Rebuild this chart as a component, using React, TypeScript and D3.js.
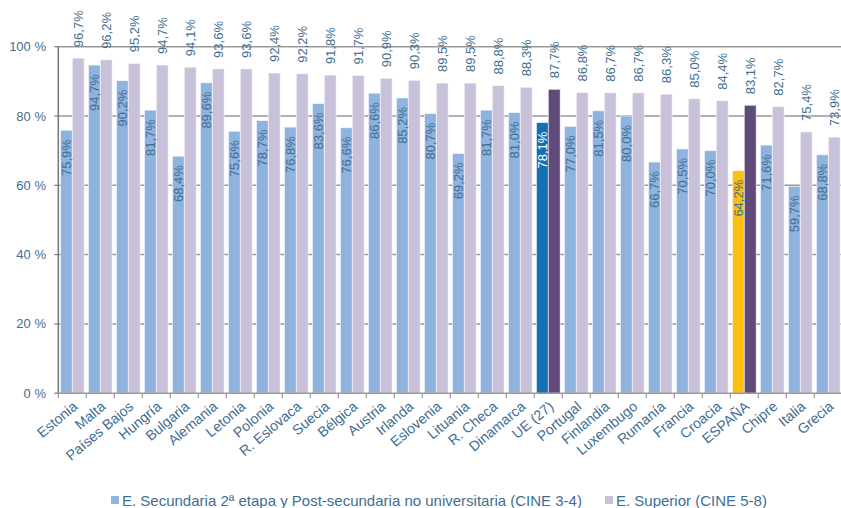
import React from "react";
import * as d3 from "d3";

const countries = ["Estonia","Malta","Países Bajos","Hungría","Bulgaria","Alemania","Letonia","Polonia","R. Eslovaca","Suecia","Bélgica","Austria","Irlanda","Eslovenia","Lituania","R. Checa","Dinamarca","UE (27)","Portugal","Finlandia","Luxembugo","Rumanía","Francia","Croacia","ESPAÑA","Chipre","Italia","Grecia"];
const secundaria = [75.9,94.7,90.2,81.7,68.4,89.6,75.6,78.7,76.8,83.6,76.6,86.6,85.2,80.7,69.2,81.7,81.0,78.1,77.0,81.5,80.0,66.7,70.5,70.0,64.2,71.6,59.7,68.8];
const superior = [96.7,96.2,95.2,94.7,94.1,93.6,93.6,92.4,92.2,91.8,91.7,90.9,90.3,89.5,89.5,88.8,88.3,87.7,86.8,86.7,86.7,86.3,85.0,84.4,83.1,82.7,75.4,73.9];
const yTicks = [0,20,40,60,80,100];
const seriesNames = ["E. Secundaria 2ª etapa y Post-secundaria no universitaria (CINE 3-4)","E. Superior (CINE 5-8)"];

const TXT = "#3f6e92";
const FONT = "'Liberation Sans', Arial, sans-serif";

const fmt = (v: number) => v.toFixed(1).replace(".", ",") + "%";

function colorSec(c: string) {
  if (c === "UE (27)") return "#156fb3";
  if (c === "ESPAÑA") return "#fbbf0f";
  return "#8fb3df";
}
function colorSup(c: string) {
  if (c === "UE (27)" || c === "ESPAÑA") return "#5f4a7a";
  return "#c9c0da";
}

export default function App() {
  const W = 841, H = 508;
  const left = 58.3, right = 842.3, top = 46.7, bottom = 393.2;
  const x = d3.scaleBand<string>().domain(countries).range([left, right]).padding(0);
  const x1 = d3.scaleBand<string>().domain(["sec","sup"]).range([0, x.bandwidth()]).paddingInner(0).paddingOuter(0.18);
  const y = d3.scaleLinear().domain([0, 100]).range([bottom, top]);
  const bw = x1.bandwidth();

  return (
    <svg width={W} height={H} style={{ position: "absolute", left: 0, top: 0, background: "#fff" }} fontFamily={FONT}>
      {/* gridlines */}
      {yTicks.map((t) => (
        <g key={t}>
          {t > 0 && <line x1={left} x2={W} y1={y(t)} y2={y(t)} stroke="#999" strokeWidth={1.5} />}
          <line x1={left - 4} x2={left} y1={y(t)} y2={y(t)} stroke="#777" strokeWidth={1.2} />
          <text x={46} y={y(t)} textAnchor="end" dominantBaseline="central" fontSize={13} fill={TXT}>{t} %</text>
        </g>
      ))}
      {/* bars */}
      {countries.map((c, i) => {
        const bx = x(c)!;
        const xs = bx + x1("sec")!;
        const xp = bx + x1("sup")!;
        return (
          <g key={c}>
            <rect x={xs} y={y(secundaria[i])} width={bw} height={bottom - y(secundaria[i])} fill={colorSec(c)} stroke="#fff" strokeWidth={0.8} strokeOpacity={0.7} />
            <rect x={xp} y={y(superior[i])} width={bw} height={bottom - y(superior[i])} fill={colorSup(c)} stroke="#fff" strokeWidth={0.8} strokeOpacity={0.7} />
          </g>
        );
      })}
      {/* value labels */}
      {countries.map((c, i) => {
        const bx = x(c)!;
        const cs = bx + x1("sec")! + bw / 2;
        const cp = bx + x1("sup")! + bw / 2;
        const ys = y(secundaria[i]) + 9;
        const yp = y(superior[i]) - 11;
        return (
          <g key={"l" + c}>
            <text transform={`translate(${cs},${ys}) rotate(-90)`} textAnchor="end" dominantBaseline="central" fontSize={13} fill={c === "UE (27)" ? "#fff" : TXT}>{fmt(secundaria[i])}</text>
            <text transform={`translate(${cp},${yp}) rotate(-90)`} textAnchor="start" dominantBaseline="central" fontSize={13} fill={TXT}>{fmt(superior[i])}</text>
          </g>
        );
      })}
      {/* axes */}
      <line x1={left} x2={left} y1={top} y2={bottom} stroke="#777" strokeWidth={1.5} />
      <line x1={left} x2={W} y1={bottom} y2={bottom} stroke="#999" strokeWidth={1.5} />
      {countries.map((c) => (
        <line key={"t" + c} x1={x(c)!} x2={x(c)!} y1={bottom} y2={bottom + 5} stroke="#999" strokeWidth={1.2} />
      ))}
      <line x1={right} x2={right} y1={bottom} y2={bottom + 5} stroke="#999" strokeWidth={1.2} />
      {/* x labels */}
      {countries.map((c) => {
        const cx = x(c)! + x.bandwidth() / 2 + 3;
        return (
          <text key={"x" + c} transform={`translate(${cx},${bottom + 11}) rotate(-40)`} textAnchor="end" dominantBaseline="central" fontSize={14.2} fill={TXT}>{c}</text>
        );
      })}
      {/* legend */}
      <rect x={111} y={496} width={8} height={8} fill="#8fb3df" />
      <text x={122} y={500} dominantBaseline="central" fontSize={15} fill={TXT}>{seriesNames[0]}</text>
      <rect x={605} y={496} width={8} height={8} fill="#c9c0da" />
      <text x={616} y={500} dominantBaseline="central" fontSize={15} fill={TXT}>{seriesNames[1]}</text>
    </svg>
  );
}
